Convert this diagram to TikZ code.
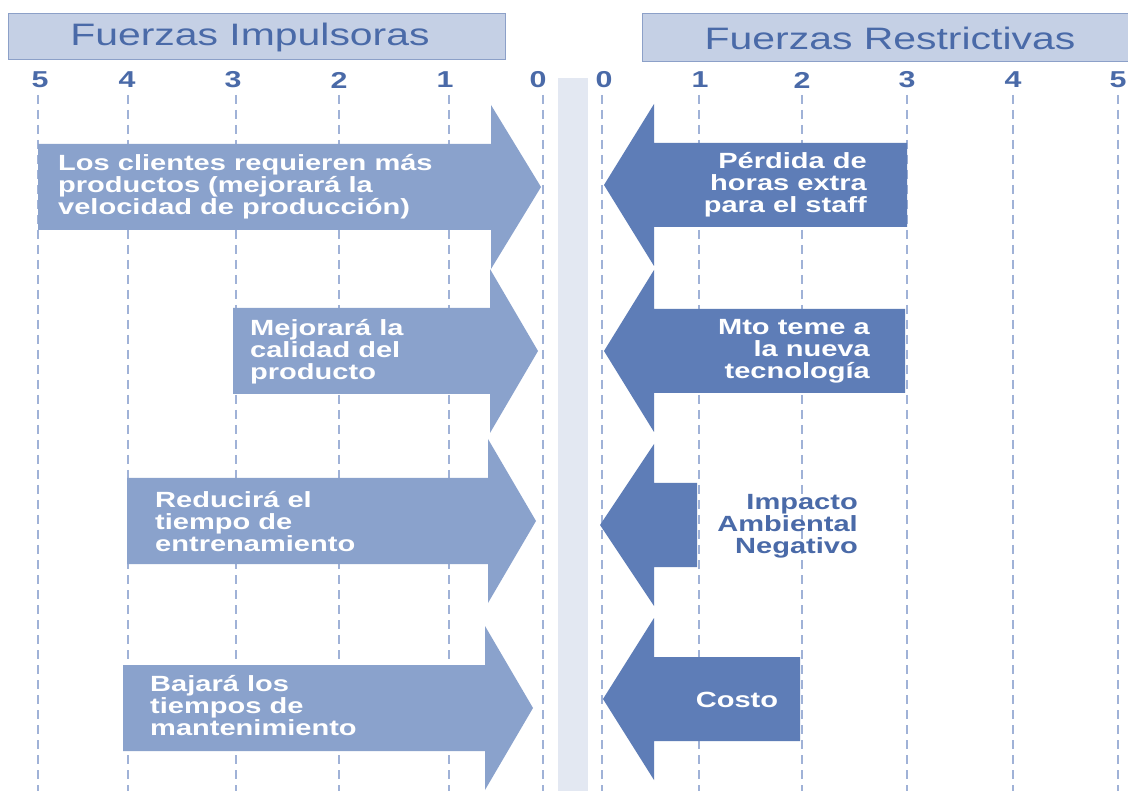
\documentclass[tikz,border=0pt]{standalone}
\usepackage{fontspec}
\setmainfont{Liberation Sans}[FakeStretch=1.32]
\definecolor{lightarr}{RGB}{138,162,204}
\definecolor{darkarr}{RGB}{94,125,183}
\definecolor{hdrfill}{RGB}{197,208,229}
\definecolor{hdrline}{RGB}{140,160,200}
\definecolor{txtblue}{RGB}{74,106,168}
\definecolor{gridc}{RGB}{160,178,215}
\definecolor{bandc}{RGB}{227,232,242}
\tikzset{
  gridline/.style={draw=gridc,line width=1.8pt,dash pattern=on 9pt off 6pt},
  num/.style={text=txtblue,font=\fontsize{23}{23}\selectfont\bfseries,inner sep=0pt},
  hdrbox/.style={fill=hdrfill,draw=hdrline,line width=1pt},
  hdrtext/.style={text=txtblue,font=\fontsize{31}{31}\selectfont,inner sep=0pt},
  lt/.style={text=white,font=\fontsize{22}{22}\selectfont\bfseries,align=left,inner sep=0pt,anchor=west},
  rt/.style={text=white,font=\fontsize{22}{22}\selectfont\bfseries,align=right,inner sep=0pt,anchor=east},
}
\newcommand{\rightarr}[5]{% x0, base, tip, yc, colour
  \fill[#5] (#1,#4-43) -- (#2,#4-43) -- (#2,#4-82) -- (#3,#4) -- (#2,#4+82) -- (#2,#4+43) -- (#1,#4+43) -- cycle;}
\newcommand{\leftarr}[5]{% x1, base, tip, yc, colour
  \fill[#5] (#1,#4-42) -- (#2,#4-42) -- (#2,#4-81) -- (#3,#4) -- (#2,#4+81) -- (#2,#4+42) -- (#1,#4+42) -- cycle;}
\begin{document}
\begin{tikzpicture}[x=1pt,y=-1pt]
\useasboundingbox (0,0) rectangle (1128,791);
\fill[white] (0,0) rectangle (1128,791);
\fill[bandc] (558,78) rectangle (588,791);
% headers
\draw[hdrbox] (8,14) rectangle (505,60);
\node[hdrtext] (hL) at (250,37) {Fuerzas Impulsoras};
\draw[hdrbox] (642,14) rectangle (1134,62);
\node[hdrtext] (hR) at (890,38) {Fuerzas Restrictivas};
% grid lines
\foreach \x in {38,128,236,339,449,543,602,699,802,907,1013,1118}
  \draw[gridline] (\x,95) -- (\x,791);
% numbers
\foreach \x/\n in {40/5,127/4,233/3,339/2,445/1,538/0}
  \node[num] (nl\n) at (\x,80) {\n};
\foreach \x/\n in {604/0,700/1,802/2,907/3,1013/4,1118/5}
  \node[num] (nr\n) at (\x,80) {\n};
% left arrows
\rightarr{38}{491}{541}{187}{lightarr}
\rightarr{233}{490}{538}{351}{lightarr}
\rightarr{127}{488}{536}{521}{lightarr}
\rightarr{123}{485}{533}{708}{lightarr}
% right arrows
\leftarr{907}{654}{604}{185}{darkarr}
\leftarr{905}{654}{604}{351}{darkarr}
\leftarr{697}{654}{600}{525}{darkarr}
\leftarr{800}{654}{603}{699}{darkarr}
% texts
\node[lt] (t1) at (58,187) {Los clientes requieren más\\productos (mejorará la\\velocidad de producción)};
\node[lt] (t2) at (250,352) {Mejorará la\\calidad del\\producto};
\node[lt] (t3) at (155,522) {Reducirá el\\tiempo de\\entrenamiento};
\node[lt] (t4) at (150,706) {Bajará los\\tiempos de\\mantenimiento};
\node[rt] (r1) at (867,185) {Pérdida de\\horas extra\\para el staff};
\node[rt] (r2) at (870,351) {Mto teme a\\la nueva\\tecnología};
\node[rt,text=txtblue] (r3) at (858,526) {Impacto\\Ambiental\\Negativo};
\node[text=white,font=\fontsize{22}{22}\selectfont\bfseries,inner sep=0pt] (r4) at (737,700) {Costo};
\end{tikzpicture}
\end{document}
